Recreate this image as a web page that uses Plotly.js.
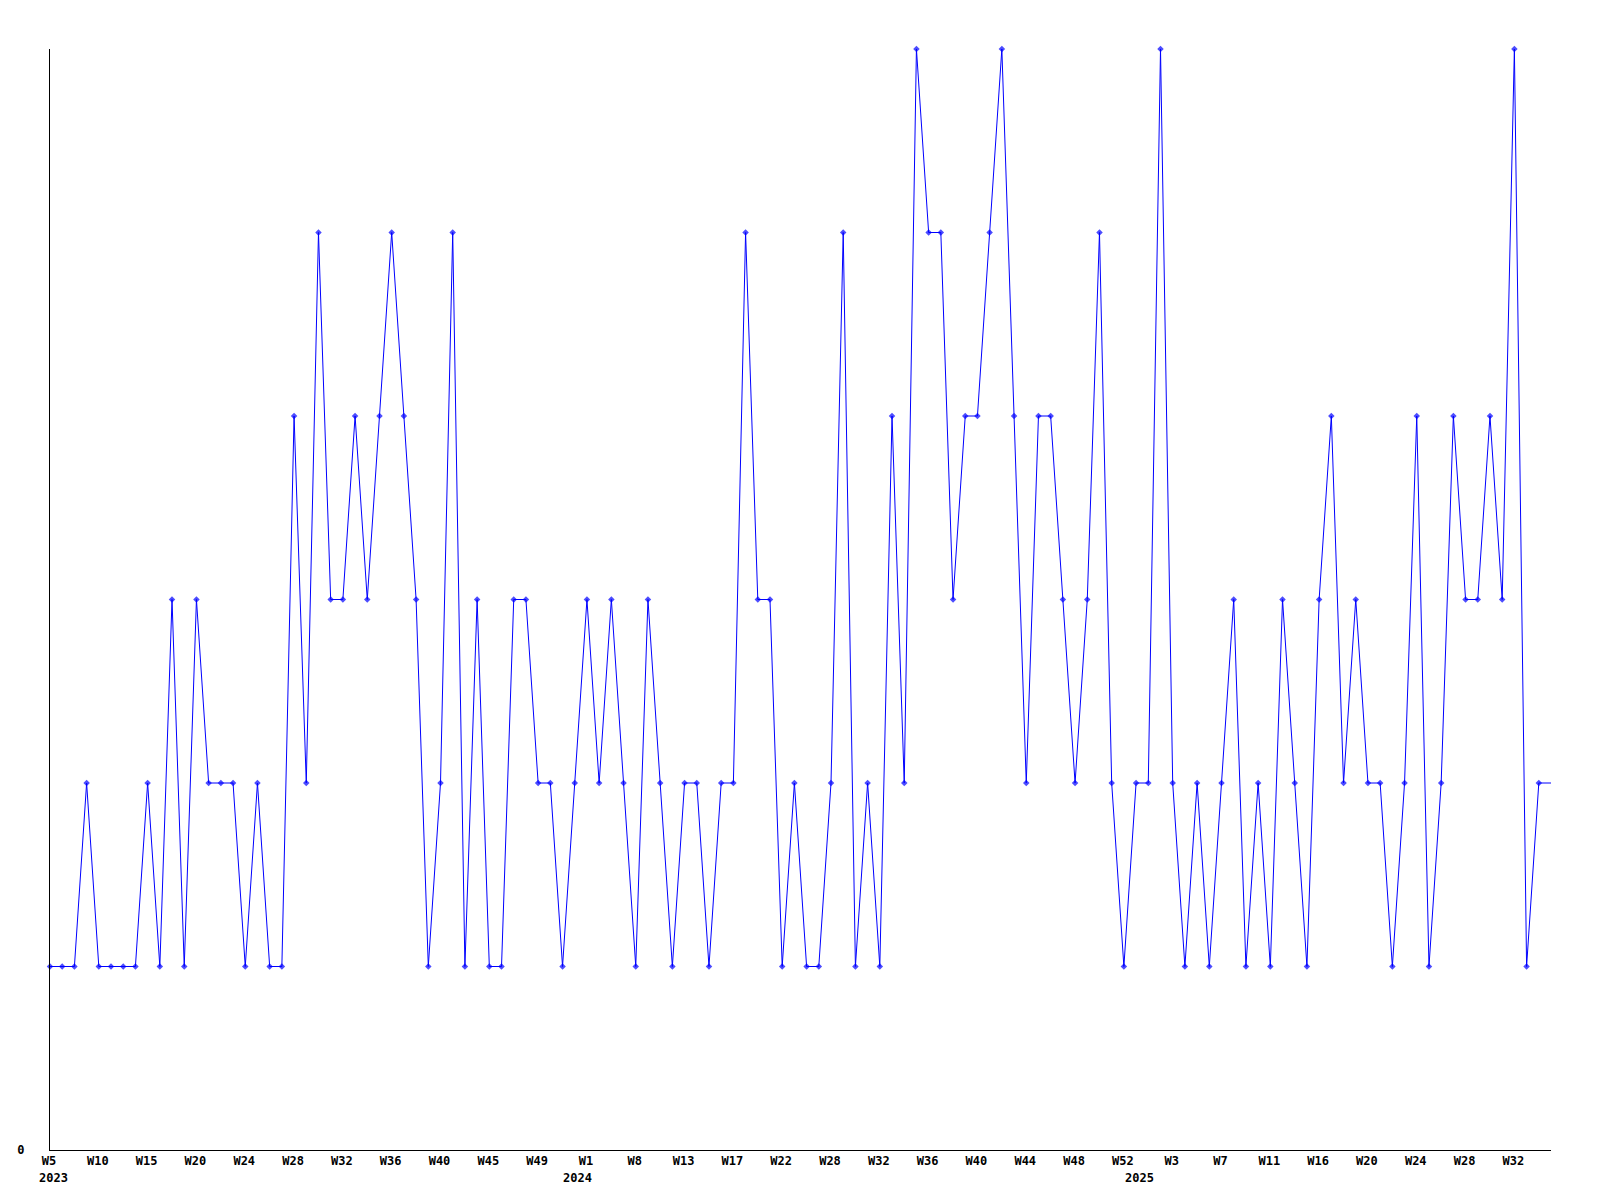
<!DOCTYPE html>
<html>
<head>
<meta charset="utf-8">
<script src="https://cdn.plot.ly/plotly-3.0.1.min.js"></script>
<style>html,body{margin:0;padding:0;background:#fff;}#chart{width:1600px;height:1200px;}</style>
</head>
<body>
<div id="chart"></div>
<script>
// Weekly values, one per sampled week (index 0 = W5 2023)
const values = [
  1,1,1,2,1,1,1,1,2,1,3,1,3,2,2,2,1,2,1,1,
  4,2,5,3,3,4,3,4,5,4,3,1,2,5,1,3,1,1,3,3,
  2,2,1,2,3,2,3,2,1,3,2,1,2,2,1,2,2,5,3,3,
  1,2,1,1,2,5,1,2,1,4,2,6,5,5,3,4,4,5,6,4,
  2,4,4,3,2,3,5,2,1,2,2,6,2,1,2,1,2,3,1,2,
  1,3,2,1,3,4,2,3,2,2,1,2,4,1,2,4,3,3,4,3,
  6,1,2,2
];
// Tick labels, shown every 4th week sample
const tickLabels = ['W5','W10','W15','W20','W24','W28','W32','W36','W40','W45','W49',
  'W1','W8','W13','W17','W22','W28','W32','W36','W40','W44','W48',
  'W52','W3','W7','W11','W16','W20','W24','W28','W32'];
const tickStep = 4;
// Year labels and the sample index where each year label sits
const yearLabels = ['2023','2024','2025'];
const yearIndex = [0, 43, 89];

const xs = values.map((v, i) => i);
const tickVals = tickLabels.map((t, i) => i * tickStep);
const markerSizes = values.map((v, i) => i === values.length - 1 ? 0 : 5);

const font = {family: '"DejaVu Sans Mono", "Liberation Mono", monospace', size: 12, color: '#000'};

const trace = {
  x: xs,
  y: values,
  type: 'scatter',
  mode: 'lines+markers',
  line: {color: '#0000ff', width: 1},
  marker: {color: '#0000ff', symbol: 'diamond', size: markerSizes, line: {width: 0}},
  cliponaxis: false,
  hoverinfo: 'x+y'
};

const layout = {
  width: 1600,
  height: 1200,
  margin: {l: 50, r: 49, t: 49, b: 50, pad: 0},
  paper_bgcolor: '#ffffff',
  plot_bgcolor: '#ffffff',
  showlegend: false,
  font: font,
  xaxis: {
    range: [0, values.length - 1],
    showgrid: false,
    zeroline: false,
    showline: true,
    linecolor: '#000',
    linewidth: 1,
    tickmode: 'array',
    tickvals: tickVals,
    ticktext: tickLabels,
    ticks: '',
    tickangle: 0,
    ticklabelshift: -1,
    tickfont: {family: font.family, size: 12, color: '#000', weight: 'bold'}
  },
  yaxis: {
    range: [0, 6],
    showgrid: false,
    zeroline: false,
    showline: true,
    linecolor: '#000',
    linewidth: 1,
    tickmode: 'array',
    tickvals: [0],
    ticktext: ['0'],
    ticks: 'outside',
    ticklen: 22,
    tickcolor: 'rgba(0,0,0,0)',
    tickfont: {family: font.family, size: 12, color: '#000', weight: 'bold'}
  },
  annotations: yearLabels.map((t, k) => ({
    text: t,
    xref: 'x',
    x: yearIndex[k],
    yref: 'paper',
    y: 0,
    xanchor: 'center',
    yanchor: 'top',
    xshift: 3,
    yshift: -19,
    showarrow: false,
    font: {family: font.family, size: 12, color: '#000', weight: 'bold'}
  }))
};

Plotly.newPlot('chart', [trace], layout, {displayModeBar: false, staticPlot: true});
</script>
</body>
</html>
